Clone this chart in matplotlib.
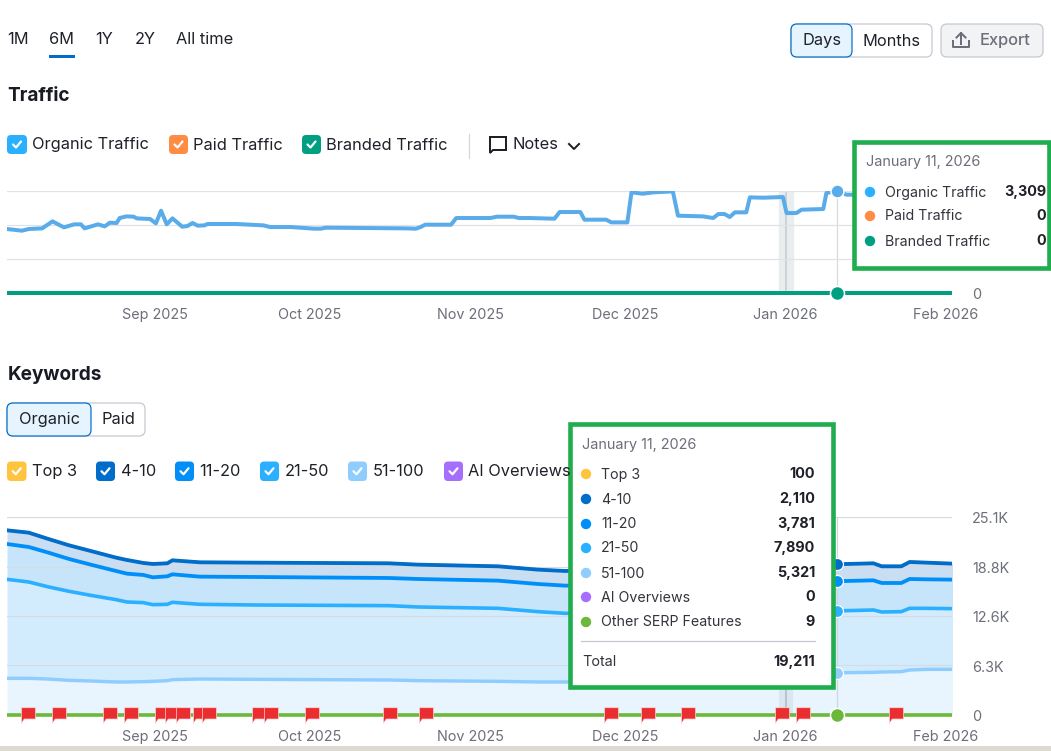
"""Traffic / Keywords dashboard panel, redrawn from a screenshot."""
import matplotlib
matplotlib.use('Agg')
import matplotlib.pyplot as plt
import matplotlib.dates as mdates
from matplotlib.patches import FancyBboxPatch, Rectangle, Circle
from matplotlib.path import Path
from matplotlib.transforms import ScaledTranslation
import numpy as np

plt.rcParams['font.family'] = ['Inter', 'DejaVu Sans']

W, H = 1051, 751
START = mdates.date2num(np.datetime64('2025-08-01'))

MONTH_TICKS = ['2025-09-01', '2025-10-01', '2025-11-01', '2025-12-01', '2026-01-01', '2026-02-01']
MONTH_LABELS = ['Sep 2025', 'Oct 2025', 'Nov 2025', 'Dec 2025', 'Jan 2026', 'Feb 2026']

# days after Aug 1 2025
traffic_days = [2.4, 5.3, 6.6, 9.2, 11.2, 13.4, 15.4, 16.7, 17.4, 20, 21.3, 22.3, 23.6, 24.2, 25.5,
                26.9, 27.5, 30.1, 31.2, 32.2, 33.3, 34.4, 36.3, 37.3, 38.3, 39.3, 40.6, 41.2, 46.8,
                52, 53.3, 57.3, 61.8, 63.1, 64.1, 79.5, 81.5, 82.4, 83.3, 88.3, 89.3, 95.9, 97.2,
                100.4, 101.4, 103.5, 108.3, 109.3, 113.3, 114.1, 118.3, 119.3, 122.4, 123.2, 125.4,
                127.4, 131.2, 132.2, 137, 139, 140, 141.2, 142.2, 143.2, 145.4, 146.1, 148.7, 152.5,
                153.2, 155.1, 156.1, 160.3, 160.9, 163, 164.8, 185.2]
organic_traffic = [2070, 2016, 2070, 2091, 2318, 2124, 2221, 2221, 2091, 2221, 2156, 2275, 2264, 2426, 2479,
                   2469, 2415, 2393, 2253, 2663, 2221, 2415, 2145, 2167, 2264, 2178, 2188, 2232, 2232,
                   2188, 2134, 2134, 2081, 2081, 2113, 2091, 2081, 2134, 2210, 2210, 2426, 2426, 2469,
                   2469, 2426, 2426, 2404, 2620, 2620, 2372, 2372, 2285, 2285, 3256, 3212,
                   3256, 3288, 2501, 2479, 2426, 2555, 2555, 2458, 2609, 2609, 3094, 3083, 3105,
                   2587, 2587, 2695, 2717, 3234, 3309, 3180, 3200]
traffic_grid = [0, 1100, 2200, 3300]
traffic_grid_labels = ['0', '', '', '']

kw_days = [2.4, 6.6, 10.2, 14.4, 18.6, 23.5, 25.6, 28.8, 30.6, 33.4, 34.4, 39.7, 50.2, 76.3, 81.9,
           97.4, 105.1, 110.4, 163, 164.8, 170, 171.6, 175.4, 177, 180.3, 185.3]
kw_51_100 = [4649, 4649, 4564, 4395, 4311, 4184, 4184, 4226, 4268, 4353, 4480, 4564, 4522, 4437, 4353,
             4268, 4184, 4184, 5321, 5367, 5409, 5452, 5494, 5705, 5790, 5790]
kw_21_50 = [12551, 12213, 11706, 11283, 10860, 10438, 10142, 10016, 9720, 9677, 9804, 9466, 9424, 9424, 9339,
            9255, 8917, 8705, 7890, 7860, 7903, 7606, 7607, 7818, 7733, 7691]
kw_11_20 = [4479, 4437, 4353, 4100, 3888, 3634, 3592, 3507, 3465, 3550, 3550, 3508, 3550, 3508, 3550,
            3508, 3507, 3508, 3781, 3762, 3761, 3677, 3634, 3719, 3677, 3677]
kw_4_10 = [1733, 1817, 1733, 1732, 1733, 1691, 1733, 1522, 1691, 1648, 1775, 1817, 1817, 1859, 1817,
           1817, 1817, 1859, 2110, 2155, 2155, 2113, 2113, 2155, 2113, 2028]
kw_top3 = [100] * len(kw_days)
kw_grid = [0, 6300, 12600, 18800, 25100]
kw_grid_labels = ['0', '6.3K', '12.6K', '18.8K', '25.1K']

flag_days = [6.4, 12.4, 22.4, 26.4, 32.4, 34.4, 36.4, 39.8, 41.4, 51.2, 53.4, 61.4, 76.4, 83.4,
             119.3, 126.3, 134.2, 152.3, 156.3, 174.3]

traffic_rows = [('Organic Traffic', '3,309', '#2bafff'), ('Paid Traffic', '0', '#ff8c43'),
                ('Branded Traffic', '0', '#009f81')]
keyword_rows = [('Top 3', '100', '#ffc43d'), ('4-10', '2,110', '#006dca'), ('11-20', '3,781', '#008ff8'),
                ('21-50', '7,890', '#2bafff'), ('51-100', '5,321', '#8fcdff'),
                ('AI Overviews', '0', '#a56efd'), ('Other SERP Features', '9', '#6bb83a')]

INK = '#1f2129'
GREY = '#6c6e79'
GRID = '#e0e1e9'
BOX_GREEN = '#1fad4d'
LINE_ORG = '#59ace9'


def px(size):
    return size * 0.72


def days(values):
    return START + np.asarray(values, dtype=float)


def chart_axes(fig, left, top, right, bottom):
    ax = fig.add_axes([left / W, 1 - bottom / H, (right - left) / W, (bottom - top) / H])
    ax.patch.set_alpha(0)
    for s in ax.spines.values():
        s.set_visible(False)
    ax.set_xlim(days(2.4), days(185.2))
    ax.yaxis.tick_right()
    ax.set_xticks(mdates.date2num(np.array(MONTH_TICKS, dtype='datetime64[D]')))
    ax.set_xticklabels(MONTH_LABELS, fontsize=px(14.4), color=GREY)
    ax.tick_params(axis='x', length=0, pad=px(15))
    ax.tick_params(axis='y', length=0, pad=px(20), labelsize=px(14.4), labelcolor=GREY)
    ax.grid(axis='y', color=GRID, lw=px(1.2))
    return ax


def nudge_ylabels(ax):
    # y labels sit a touch lower than matplotlib centres them
    for tick in ax.yaxis.get_major_ticks():
        lab = tick.label2
        lab.set_transform(lab.get_transform() + ScaledTranslation(0, -0.008, fig.dpi_scale_trans))


def box(ax, x0, y0, x1, y1, face, edge='none', r=4, lw=1.0, z=3):
    p = FancyBboxPatch((x0, y0), x1 - x0, y1 - y0, boxstyle=f'round,pad=0,rounding_size={r}',
                       fc=face, ec=edge, lw=lw, zorder=z)
    ax.add_patch(p)


def checkbox(ax, x0, y0, x1, y1, color):
    box(ax, x0, y0, x1, y1, color)
    cx, cy = (x0 + x1) / 2, (y0 + y1) / 2
    ax.plot([cx - 4, cx - 1, cx + 4], [cy, cy + 3, cy - 3], color='white', lw=px(2.2), zorder=4,
            solid_capstyle='round', solid_joinstyle='round')


def tooltip(ax, x0, y0, x1, y1):
    ax.add_patch(Rectangle((x0, y0), x1 - x0, y1 - y0, fc='white', ec=BOX_GREEN, lw=px(4.6), zorder=6,
                           clip_on=False))


def label(ax, x, y, s, size=16.4, color=INK, ha='left', weight='normal', z=7):
    ax.text(x, y + 1, s, fontsize=px(size), color=color, ha=ha, va='center', fontweight=weight, zorder=z)


fig = plt.figure(figsize=(W / 100, H / 100), dpi=100, facecolor='white')

# ---- traffic chart
ax1 = chart_axes(fig, 7, 191, 952, 293)
ax1.set_ylim(0, 3300)
ax1.set_yticks(traffic_grid)
ax1.set_yticklabels(traffic_grid_labels)
ax1.axvspan(days(151.7), days(154.4), color='#e9eded', zorder=1)
ax1.axvline(days(153), color='#cdd3d5', lw=px(2), zorder=1.2)
ax1.axvline(days(163), color='#d5d8dc', lw=px(1.2), zorder=1.2)
ax1.plot(days(traffic_days), organic_traffic, color=LINE_ORG, lw=px(4), solid_joinstyle='round', zorder=3)
ax1.plot(days([2.4, 185.2]), [0, 0], color='#009f81', lw=px(4), clip_on=False, zorder=3,
         solid_capstyle='butt')
ax1.plot(days(163), 3309, 'o', ms=px(13), mfc=LINE_ORG, mec='white', mew=px(1.5), clip_on=False, zorder=4)
ax1.plot(days(163), 0, 'o', ms=px(14), mfc='#009f81', mec='white', mew=px(1.5), clip_on=False, zorder=4)
nudge_ylabels(ax1)

# ---- keywords chart
ax2 = chart_axes(fig, 7, 517, 952, 715)
ax2.set_ylim(0, 25100)
ax2.set_yticks(kw_grid)
ax2.set_yticklabels(kw_grid_labels)
ax2.grid(axis='y', color='#d5dbe3', lw=px(1.2))

kw_x = days(kw_days)
other = np.zeros(len(kw_days))
top51 = np.array(kw_51_100, dtype=float)
top21 = top51 + kw_21_50
top11 = top21 + kw_11_20
top4 = top11 + kw_4_10
top3 = top4 + kw_top3
ax2.fill_between(kw_x, other, top51, color='#e8f4fe', lw=0)
ax2.fill_between(kw_x, top51, top21, color='#d2ecfe', lw=0)
ax2.fill_between(kw_x, top21, top11, color='#c6e4fa', lw=0)
ax2.fill_between(kw_x, top11, top4, color='#c9def2', lw=0)
ax2.axvspan(days(151.7), days(154.4), color='#8a9aa0', alpha=0.14, zorder=1.2, lw=0)
ax2.axvline(days(153), color='#b9c4ca', lw=px(2), zorder=1.3)
ax2.axvline(days(163), color='#cfd6dc', lw=px(1.2), zorder=1.3)

ax2.plot(kw_x, top3, color='#ffc43d', lw=px(1.5), zorder=2.5)
ax2.plot(kw_x, top51, color='#8fcdff', lw=px(3.4), zorder=3)
ax2.plot(kw_x, top21, color='#2bafff', lw=px(3.6), zorder=3)
ax2.plot(kw_x, top11, color='#008ff8', lw=px(3.8), zorder=3)
ax2.plot(kw_x, top4, color='#006dca', lw=px(3.8), zorder=3)
ax2.plot(days([2.4, 185.2]), [0, 0], color='#6bb83a', lw=px(3.6), clip_on=False, zorder=3,
         solid_capstyle='butt')

jan11 = kw_days.index(163)
for ys, c in [(top51, '#8fcdff'), (top21, '#2bafff'), (top11, '#008ff8'), (top4, '#006dca')]:
    ax2.plot(days(163), ys[jan11], 'o', ms=px(12), mfc=c, mec='white', mew=px(1.2), zorder=4)
ax2.plot(days(163), 0, 'o', ms=px(14), mfc='#6bb83a', mec='white', mew=px(1.5), clip_on=False, zorder=5)

flag = Path([(-1, 1.1), (1, 1.1), (1, -0.5), (-0.6, -0.5), (-1, -1.1), (-1, 1.1)], closed=True)
ax2.scatter(days(flag_days), np.zeros(len(flag_days)), marker=flag, s=125, c='#ec2d30',
            edgecolors='#fbd9d9', linewidths=0.5, clip_on=False, zorder=6)
nudge_ylabels(ax2)

# ---- page furniture, in pixel coordinates
ui = fig.add_axes([0, 0, 1, 1], zorder=10)
ui.patch.set_alpha(0)
ui.axis('off')
ui.set_xlim(0, W)
ui.set_ylim(H, 0)

for x, s in [(7, '1M'), (49, '6M'), (95, '1Y'), (135, '2Y'), (176, 'All time')]:
    label(ui, x, 39, s)
ui.add_patch(Rectangle((49, 55), 26, 2.8, fc='#006dca', ec='none'))

box(ui, 791, 24, 932, 57, 'white', '#c4c7cf', r=6, lw=px(1.2))
box(ui, 791, 24, 852, 57, '#e6f4ff', '#006dca', r=6, lw=px(1.2))
label(ui, 821.5, 40, 'Days', ha='center')
label(ui, 891.5, 40, 'Months', ha='center')
box(ui, 941, 24, 1043, 57, '#f2f3f5', '#c4c7cf', r=6, lw=px(1.2))
ui.plot([953, 953, 969, 969], [41, 47, 47, 41], color=GREY, lw=px(2), zorder=4)
ui.plot([961, 961], [44, 33], color=GREY, lw=px(2), zorder=4)
ui.plot([956.5, 961, 965.5], [37.5, 33, 37.5], color=GREY, lw=px(2), zorder=4)
label(ui, 980, 39, 'Export', color=GREY, weight='medium')

label(ui, 7.5, 95, 'Traffic', size=19, weight='bold', color='#191b23')
label(ui, 7.5, 374, 'Keywords', size=19, weight='bold', color='#191b23')

checkbox(ui, 7, 135, 27, 154, '#2bafff')
label(ui, 32, 144, 'Organic Traffic')
checkbox(ui, 169, 135, 188, 154, '#ff8c43')
label(ui, 193, 144, 'Paid Traffic')
checkbox(ui, 302, 135, 321, 154, '#009f81')
label(ui, 326.5, 144, 'Branded Traffic')
ui.plot([468.5, 468.5], [134, 158], color='#d5d7de', lw=px(1.2))
ui.plot([506, 490, 490, 493, 496, 506, 506], [137, 137, 153, 150, 150, 150, 137], color=INK, lw=px(2),
        solid_joinstyle='miter')
label(ui, 513, 143.5, 'Notes')
ui.plot([569, 574, 579], [144, 149, 144], color=INK, lw=px(2))

box(ui, 7, 403, 145, 436, 'white', '#c4c7cf', r=6, lw=px(1.2))
box(ui, 7, 403, 91, 436, '#e6f4ff', '#006dca', r=6, lw=px(1.2))
label(ui, 49, 418.5, 'Organic', ha='center')
label(ui, 118, 418.5, 'Paid', ha='center')

for x0, x1, tx, s, c in [(7, 26.5, 32, 'Top 3', '#ffc43d'), (96, 115, 120.5, '4-10', '#006dca'),
                         (175, 194, 199, '11-20', '#008ff8'), (260, 279, 284.5, '21-50', '#2bafff'),
                         (348, 367, 372.5, '51-100', '#8fcdff'), (444, 463, 468.5, 'AI Overviews', '#a56efd')]:
    checkbox(ui, x0, 461.5, x1, 481, c)
    label(ui, tx, 470.5, s)

# tooltips
tooltip(ui, 853.5, 141.5, 1049, 267.5)
label(ui, 866, 161, 'January 11, 2026', size=14.4, color=GREY)
for y, (name, val, c) in zip([192, 216, 241], traffic_rows):
    ui.add_patch(Circle((870, y), 5.2, fc=c, ec='none', zorder=7))
    label(ui, 885, y - 0.5, name, size=14.2, color='#33353d')
    label(ui, 1046, y - 1, val, size=14.4, ha='right', weight='bold')

tooltip(ui, 569.5, 423.5, 832.5, 686.5)
label(ui, 582, 444, 'January 11, 2026', size=14.4, color=GREY)
for y, (name, val, c) in zip([474, 499, 524, 548, 573, 597, 622], keyword_rows):
    ui.add_patch(Circle((586, y), 5.2, fc=c, ec='none', zorder=7))
    label(ui, 601, y - 0.5, name, size=14.2, color='#33353d')
    label(ui, 815, y - 1, val, size=14.4, ha='right', weight='bold')
ui.plot([581, 815], [641, 641], color='#c4c7cf', lw=px(1.2), zorder=7)
label(ui, 582, 661, 'Total', size=14.4, color='#33353d')
label(ui, 815, 661, '19,211', size=14.4, ha='right', weight='bold')

# bottom edge of the screenshot
ui.add_patch(Rectangle((0, 746), W, 5, fc='#dcd9d3', ec='none', zorder=8))

fig.savefig('out.png', dpi=100)
plt.close()
